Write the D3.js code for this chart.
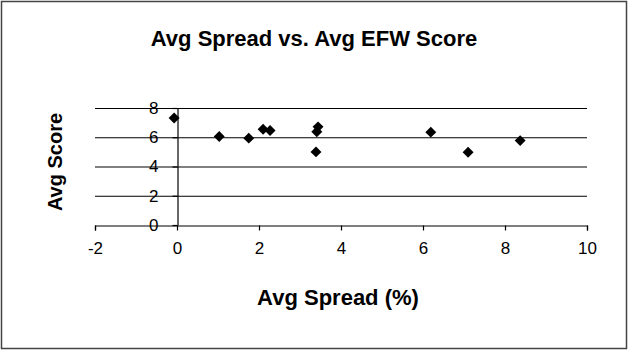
<!DOCTYPE html>
<html>
<head>
<meta charset="utf-8">
<script src="https://cdn.jsdelivr.net/npm/d3@7"></script>
<style>
html,body{margin:0;padding:0;background:#fff}
svg{display:block;font-family:"Liberation Sans",Arial,sans-serif}
</style>
</head>
<body>
<svg width="628" height="350"></svg>
<script>
// ===== DATA =====
const spread = [-0.07, 1.03, 1.75, 2.10, 2.27, 3.44, 3.41, 3.39, 6.19, 7.10, 8.37]
const score  = [7.31, 6.05, 5.94, 6.55, 6.46, 6.71, 6.37, 5.00, 6.35, 4.98, 5.77]
const xTicks = [-2, 0, 2, 4, 6, 8, 10]
const yTicks = [0, 2, 4, 6, 8]

const points = spread.map((s,i)=>({x:s, y:score[i]}))

const svg = d3.select("svg")

// FRAME
svg.append("rect")
.attr("x",1.5).attr("y",1.5)
.attr("width",625).attr("height",347)
.attr("fill","#fff")
.attr("stroke","#444")
.attr("stroke-width",1.5)

// SCALES
const x = d3.scaleLinear().domain([-2,10]).range([95,587])
const y = d3.scaleLinear().domain([0,8]).range([225,108])

// GRID
svg.append("g")
.selectAll("line")
.data(yTicks.filter(t=>t>0))
.enter()
.append("line")
.attr("x1",x(-2)).attr("x2",x(10))
.attr("y1",d=>y(d)+0.5).attr("y2",d=>y(d)+0.5)
.attr("stroke","#000")
.attr("stroke-width",1.2)

// X AXIS
const xAxis = svg.append("g")
.attr("transform",`translate(0,${y(0)+0.5})`)
.call(d3.axisBottom(x).tickValues(xTicks).tickSize(5).tickPadding(11).tickFormat(d=>String(d)))
xAxis.selectAll("path,line").attr("stroke","#000").attr("stroke-width",1.2)
xAxis.selectAll("text").attr("font-size",17).attr("font-family","Liberation Sans, Arial").attr("fill","#000")

// Y AXIS
const yAxis = svg.append("g")
.attr("transform",`translate(${x(0)+0.5},0)`)
.call(d3.axisLeft(y).tickValues(yTicks).tickSize(5).tickSizeOuter(0).tickPadding(14).tickFormat(d=>String(d)))
yAxis.selectAll("path,line").attr("stroke","#000").attr("stroke-width",1.2)
yAxis.selectAll("text").attr("font-size",17).attr("font-family","Liberation Sans, Arial").attr("fill","#000")

// POINTS
svg.append("g")
.selectAll("path")
.data(points)
.enter()
.append("path")
.attr("d",d3.symbol(d3.symbolSquare,60))
.attr("transform",d=>`translate(${x(d.x)},${y(d.y)}) rotate(45)`)
.attr("fill","#000")

// TITLES
svg.append("text")
.attr("x",314).attr("y",46)
.attr("text-anchor","middle")
.attr("font-size",22).attr("font-weight","bold")
.text("Avg Spread vs. Avg EFW Score")

svg.append("text")
.attr("x",338).attr("y",305)
.attr("text-anchor","middle")
.attr("font-size",22).attr("font-weight","bold")
.text("Avg Spread (%)")

svg.append("text")
.attr("transform","translate(62,162) rotate(-90)")
.attr("text-anchor","middle")
.attr("font-size",20).attr("font-weight","bold")
.text("Avg Score")
</script>
</body>
</html>
